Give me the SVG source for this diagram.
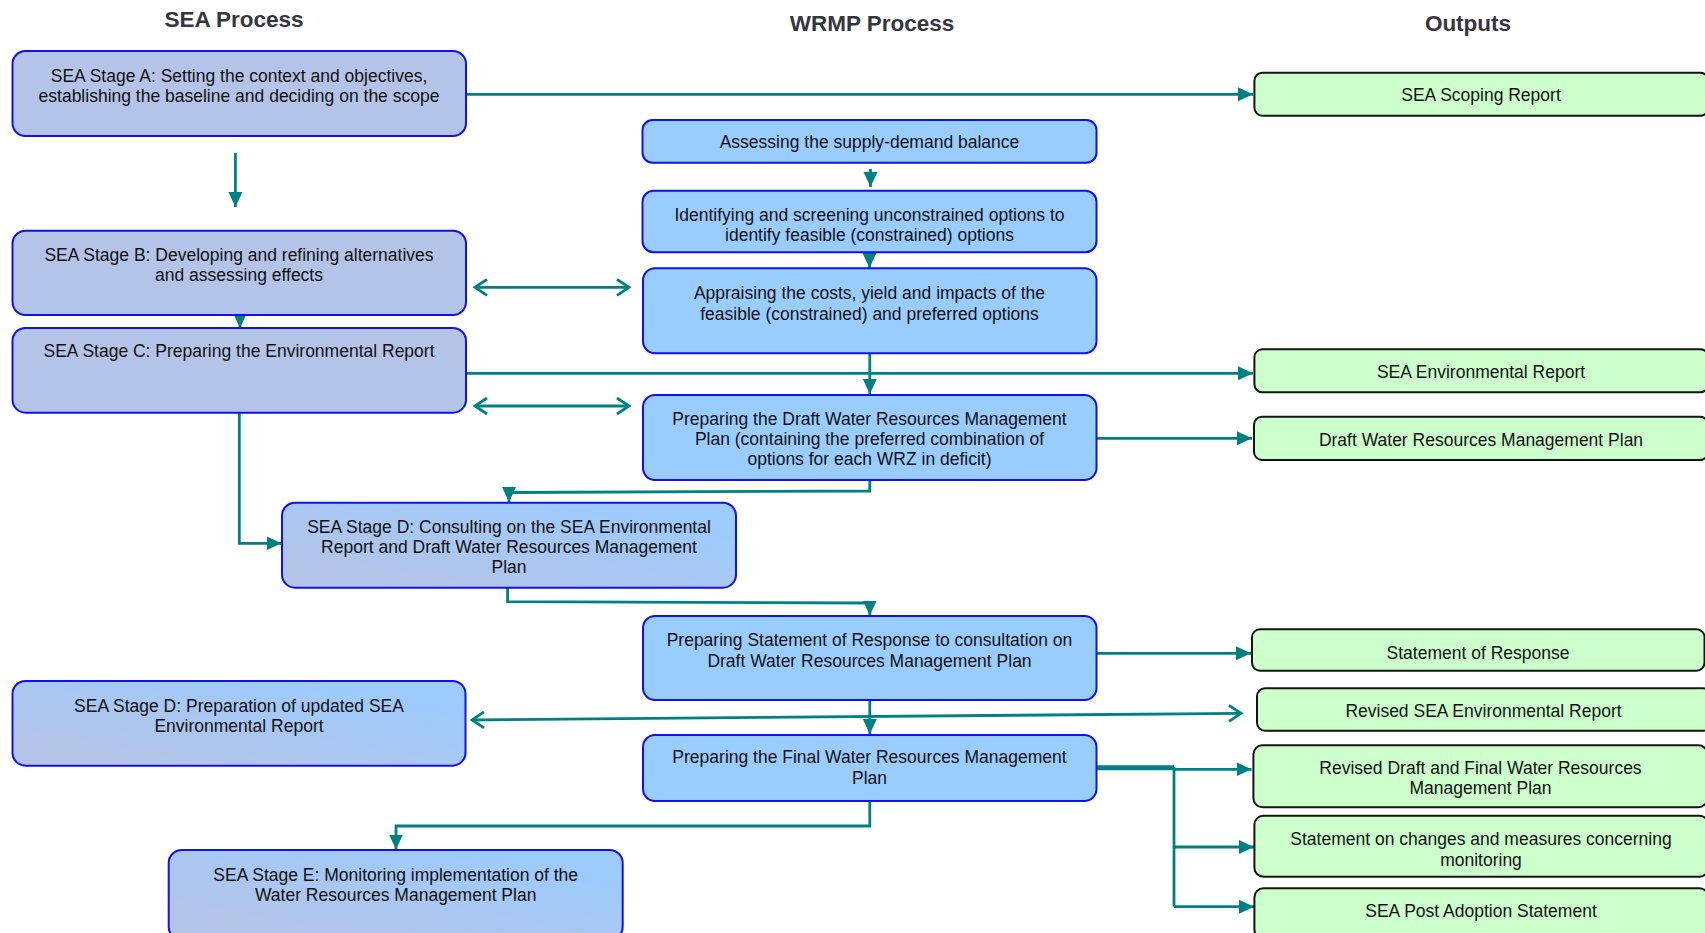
<svg xmlns="http://www.w3.org/2000/svg" width="1705" height="933" viewBox="0 0 1705 933">
<style>
.sea{stroke:#1010f0;stroke-width:2;}
.wr{fill:#99ccff;stroke:#1010f0;stroke-width:2;}
.out{fill:#ccffcc;stroke:#141414;stroke-width:2;}
.t{font-family:"Liberation Sans",Arial,sans-serif;font-size:17.5px;fill:#111;text-anchor:middle;}
.h{font-family:"Liberation Sans",Arial,sans-serif;font-size:22.5px;font-weight:bold;fill:#363640;text-anchor:middle;}
.c{fill:none;stroke:#008080;stroke-width:2.8;}
</style>
<defs>
<linearGradient id="gs" x1="0" y1="1" x2="1" y2="0">
<stop offset="0" stop-color="#b4c4e8"/><stop offset="1" stop-color="#b4c4e8"/>
</linearGradient>
<linearGradient id="gd" x1="0" y1="1" x2="1" y2="0">
<stop offset="0.15" stop-color="#b4c4e8"/><stop offset="0.85" stop-color="#9ccbfc"/>
</linearGradient>
<marker id="af" markerUnits="userSpaceOnUse" markerWidth="16" markerHeight="16" viewBox="0 0 16 16" refX="15" refY="8" orient="auto">
<path d="M0,1 L15,8 L0,15 Z" fill="#008080"/>
</marker>
<marker id="ao" markerUnits="userSpaceOnUse" markerWidth="18" markerHeight="20" viewBox="0 0 18 20" refX="14" refY="10" orient="auto-start-reverse">
<path d="M2,2 L14,10 L2,18" fill="none" stroke="#008080" stroke-width="2.8"/>
</marker>
</defs>
<rect width="1705" height="933" fill="#ffffff"/>

<g id="titles">
<text class="h" x="234" y="27">SEA Process</text>
<text class="h" x="872" y="31">WRMP Process</text>
<text class="h" x="1468" y="31">Outputs</text>
</g>

<g id="connectors">
<path class="c" d="M466,94.3 H1253" marker-end="url(#af)"/>
<path class="c" d="M235.4,153 V207" marker-end="url(#af)"/>
<path class="c" d="M240,314 V328" marker-end="url(#af)"/>
<path class="c" d="M475,287.3 H629" marker-start="url(#ao)" marker-end="url(#ao)"/>
<path class="c" d="M870.5,169 V187" marker-end="url(#af)"/>
<path class="c" d="M869.5,252 V268" marker-end="url(#af)"/>
<path class="c" d="M869.8,353.5 V394" marker-end="url(#af)"/>
<path class="c" d="M466,373.3 H1253" marker-end="url(#af)"/>
<path class="c" d="M475,406 H629" marker-start="url(#ao)" marker-end="url(#ao)"/>
<path class="c" d="M1096,438.3 H1252" marker-end="url(#af)"/>
<path class="c" d="M869.8,480 V491 L509,492.5 V502" marker-end="url(#af)"/>
<path class="c" d="M239.3,412.7 V543.3 H281.5" marker-end="url(#af)"/>
<path class="c" d="M507.6,587.7 V601.7 L869.8,603 V615.5" marker-end="url(#af)"/>
<path class="c" d="M1096,653.3 H1251" marker-end="url(#af)"/>
<path class="c" d="M472,720 L1241,713.3" marker-start="url(#ao)" marker-end="url(#ao)"/>
<path class="c" d="M869.8,700 V734" marker-end="url(#af)"/>
<path class="c" d="M869.8,801 V826 H396 V849.5" marker-end="url(#af)"/>
<path class="c" d="M1096,767.7 H1174" style="stroke-width:5"/>
<path class="c" d="M1174,769.3 H1251.5" marker-end="url(#af)"/>
<path class="c" d="M1174,767 V906.7"/>
<path class="c" d="M1174,847 H1254" marker-end="url(#af)"/>
<path class="c" d="M1174,906.7 H1254" marker-end="url(#af)"/>
</g>

<g id="sea-a">
<rect class="sea" fill="url(#gs)" x="12.5" y="51" width="453.5" height="85" rx="13"/>
<text class="t" x="239" y="81.7">SEA Stage A: Setting the context and objectives,</text>
<text class="t" x="239" y="101.7">establishing the baseline and deciding on the scope</text>
</g>
<g id="sea-b">
<rect class="sea" fill="url(#gs)" x="12.5" y="230.7" width="453.5" height="84.3" rx="13"/>
<text class="t" x="239" y="260.7">SEA Stage B: Developing and refining alternatives</text>
<text class="t" x="239" y="280.7">and assessing effects</text>
</g>
<g id="sea-c">
<rect class="sea" fill="url(#gs)" x="12.5" y="328" width="453.5" height="84.7" rx="13"/>
<text class="t" x="239" y="357.3">SEA Stage C: Preparing the Environmental Report</text>
</g>
<g id="sea-d1">
<rect class="sea" fill="url(#gd)" x="282" y="502.7" width="454" height="85" rx="13"/>
<text class="t" x="509" y="532.7">SEA Stage D: Consulting on the SEA Environmental</text>
<text class="t" x="509" y="553">Report and Draft Water Resources Management</text>
<text class="t" x="509" y="573">Plan</text>
</g>
<g id="sea-d2">
<rect class="sea" fill="url(#gd)" x="12.5" y="681" width="453" height="84.7" rx="13"/>
<text class="t" x="239" y="711.7">SEA Stage D: Preparation of updated SEA</text>
<text class="t" x="239" y="731.7">Environmental Report</text>
</g>
<g id="sea-e">
<rect class="sea" fill="url(#gd)" x="168.7" y="850" width="454" height="90" rx="13"/>
<text class="t" x="395.7" y="880.7">SEA Stage E: Monitoring implementation of the</text>
<text class="t" x="395.7" y="901">Water Resources Management Plan</text>
</g>

<g id="wr-assess">
<rect class="wr" x="642.5" y="120" width="454" height="42.7" rx="10"/>
<text class="t" x="869.5" y="147.7">Assessing the supply-demand balance</text>
</g>
<g id="wr-identify">
<rect class="wr" x="642.5" y="190.7" width="454" height="61.6" rx="11"/>
<text class="t" x="869.5" y="220.7">Identifying and screening unconstrained options to</text>
<text class="t" x="869.5" y="240.7">identify feasible (constrained) options</text>
</g>
<g id="wr-appraise">
<rect class="wr" x="643" y="268.3" width="453.5" height="85" rx="12"/>
<text class="t" x="869.5" y="299.3">Appraising the costs, yield and impacts of the</text>
<text class="t" x="869.5" y="319.5">feasible (constrained) and preferred options</text>
</g>
<g id="wr-draft">
<rect class="wr" x="643" y="395" width="453.5" height="85" rx="12"/>
<text class="t" x="869.5" y="425">Preparing the Draft Water Resources Management</text>
<text class="t" x="869.5" y="445">Plan (containing the preferred combination of</text>
<text class="t" x="869.5" y="465">options for each WRZ in deficit)</text>
</g>
<g id="wr-response">
<rect class="wr" x="643" y="616" width="453.5" height="84" rx="12"/>
<text class="t" x="869.5" y="646">Preparing Statement of Response to consultation on</text>
<text class="t" x="869.5" y="666.7">Draft Water Resources Management Plan</text>
</g>
<g id="wr-final">
<rect class="wr" x="643" y="735" width="453.5" height="66" rx="12"/>
<text class="t" x="869.5" y="763.3">Preparing the Final Water Resources Management</text>
<text class="t" x="869.5" y="784">Plan</text>
</g>

<g id="out-scoping">
<rect class="out" x="1254.4" y="72.7" width="454" height="43" rx="8"/>
<text class="t" x="1481" y="100.7">SEA Scoping Report</text>
</g>
<g id="out-env">
<rect class="out" x="1254.4" y="349.3" width="454" height="43" rx="8"/>
<text class="t" x="1481" y="377.7">SEA Environmental Report</text>
</g>
<g id="out-draft">
<rect class="out" x="1254" y="416.7" width="454" height="43.3" rx="8"/>
<text class="t" x="1481" y="445.7">Draft Water Resources Management Plan</text>
</g>
<g id="out-sor">
<rect class="out" x="1252" y="629.3" width="452.5" height="41.4" rx="8"/>
<text class="t" x="1478" y="659">Statement of Response</text>
</g>
<g id="out-revsea">
<rect class="out" x="1257" y="688.3" width="454" height="42.4" rx="8"/>
<text class="t" x="1483.5" y="717.3">Revised SEA Environmental Report</text>
</g>
<g id="out-revdraft">
<rect class="out" x="1253.4" y="745.3" width="454" height="62" rx="9"/>
<text class="t" x="1480.5" y="774">Revised Draft and Final Water Resources</text>
<text class="t" x="1480.5" y="794.3">Management Plan</text>
</g>
<g id="out-changes">
<rect class="out" x="1254.4" y="815.7" width="454" height="61" rx="9"/>
<text class="t" x="1481" y="845">Statement on changes and measures concerning</text>
<text class="t" x="1481" y="865.7">monitoring</text>
</g>
<g id="out-pas">
<rect class="out" x="1254.4" y="888.3" width="454" height="50" rx="9"/>
<text class="t" x="1481" y="916.7">SEA Post Adoption Statement</text>
</g>
</svg>
